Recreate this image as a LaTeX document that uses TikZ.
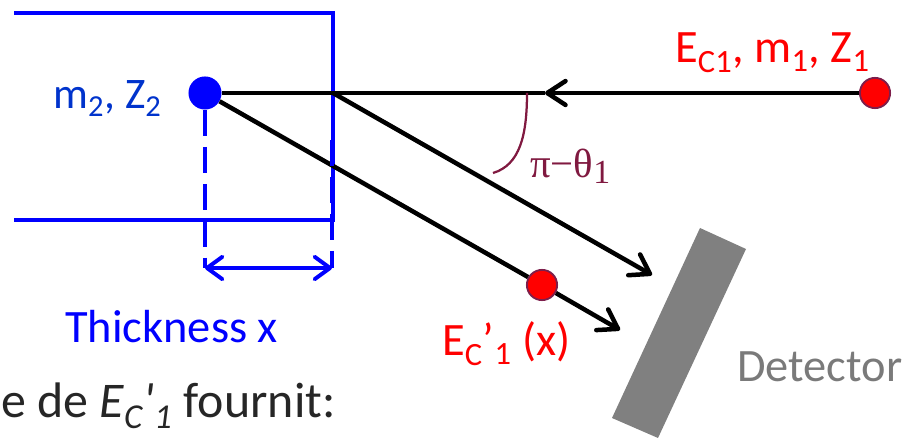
\documentclass[tikz,border=0pt]{standalone}
\usepackage{fontspec}
\setmainfont{Carlito}
\newfontfamily\greekfont{Liberation Serif}
\usetikzlibrary{arrows.meta, positioning}

\definecolor{beamblue}{RGB}{0,0,255}
\definecolor{massblue}{RGB}{0,51,204}
\definecolor{anglecol}{RGB}{128,25,64}
\definecolor{dotrim}{RGB}{125,30,75}
\definecolor{detgray}{RGB}{128,128,128}
\definecolor{dettext}{RGB}{122,122,122}
\definecolor{bodytext}{RGB}{38,38,38}

\begin{document}
\begin{tikzpicture}[
  x=0.025cm, y=-0.025cm,
  lbl/.style={inner sep=0pt, font=\fontsize{33}{40}\selectfont},
  bluedot/.style={circle, fill=beamblue, inner sep=0pt, minimum size=23.5pt},
  reddot/.style={circle, fill=red, draw=dotrim, line width=1.3pt,
    inner sep=0pt, minimum size=21.5pt},
  beam/.style={draw=black, line width=3.2pt},
  beamarr/.style={beam, -{Straight Barb[round, length=13pt, width=17pt]}},
  slab/.style={draw=beamblue, line width=2.5pt},
  dashv/.style={draw=beamblue, line width=2.8pt, dash pattern=on 18.5pt off 7.8pt},
  thickarr/.style={draw=beamblue, line width=2.8pt,
    {Straight Barb[round, length=11pt, width=16pt]}-{Straight Barb[round, length=11pt, width=16pt]}}
]
\useasboundingbox (0,0) rectangle (909,438);
\clip (0,0) rectangle (909,438);

% === Target slab ===
\draw[slab] (14,13) -- (333,13) -- (333,220) -- (14,220);

% === Particles ===
\node[bluedot] (target) at (205,93) {};
\node[reddot]  (proj)   at (875,93) {};
\node[reddot]  (slowed) at (542,285) {};

\coordinate (midtip) at (545,93);
\coordinate (exit)   at (333,93);
\coordinate (tipA)   at (652,275);
\coordinate (tipB)   at (620,330);
\coordinate (tl)     at (205,268);
\coordinate (tr)     at (332,268);
\coordinate (rtop)   at (332,140);

% === Beams ===
\draw[beamarr] (proj) -- (midtip);
\draw[beam] (midtip) -- (target);
\draw[beamarr] (exit) -- (tipA);
\draw[beam] (target) -- (slowed);
\draw[beamarr] (slowed) -- (tipB);

% === Thickness ===
\draw[dashv] (target) -- (tl);
\draw[dashv] (rtop) -- (tr);
\draw[thickarr] (tl) -- (tr);

% === Angle ===
\draw[anglecol, line width=1.6pt] (527,93) .. controls (527,135) and (520,165) .. (493,173);

% === Detector ===
\fill[detgray] (700,228) -- (746,249) -- (658,438) -- (612,418) -- cycle;

% === Labels ===
\node[lbl, text=massblue, anchor=base west, font=\fontsize{31}{38}\selectfont]
  (tgtlbl) at (53,109) {m\textsubscript{2}, Z\textsubscript{2}};
\node[lbl, text=red, anchor=base west]
  (projlbl) at (675,63) {E\textsubscript{C1}, m\textsubscript{1}, Z\textsubscript{1}};
\node[lbl, text=beamblue, anchor=base west]
  (thklbl) at (65,343) {Thickness x};
\node[lbl, text=red, anchor=base west]
  (slowlbl) at (442,356) {E\textsubscript{C}’\textsubscript{1} (x)};
\node[lbl, text=dettext, anchor=base west]
  (detlbl) at (737,382) {Detector};
\node[lbl, text=anglecol, anchor=base west, font=\greekfont\fontsize{29}{34}\selectfont]
  (anglbl) at (530,178) {π−θ\raisebox{-4pt}{\fontsize{24}{28}\selectfont 1}};
\node[lbl, text=bodytext, anchor=base west, font=\fontsize{35.5}{42}\selectfont]
  (bodylbl) at (1,418) {e de \textit{E\textsubscript{C}\textquotesingle\textsubscript{1}} fournit:};

\end{tikzpicture}
\end{document}
